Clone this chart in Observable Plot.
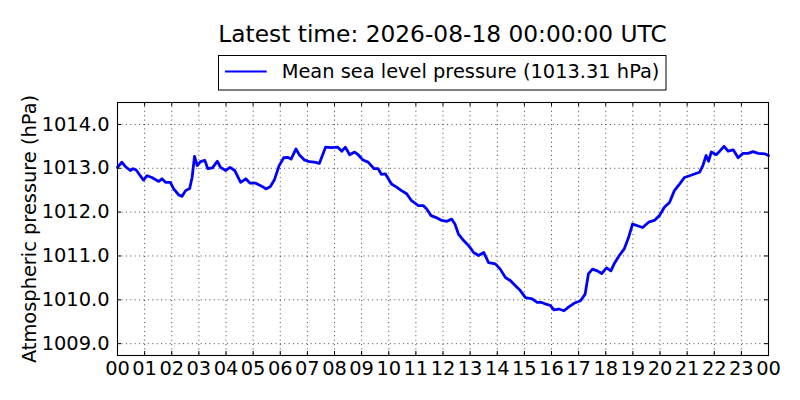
<!DOCTYPE html>
<html>
<head>
<meta charset="utf-8">
<script src="https://cdn.jsdelivr.net/npm/d3@7"></script>
<script src="https://cdn.jsdelivr.net/npm/@observablehq/plot@0.6"></script>
<style>
  html, body { margin: 0; padding: 0; background: #fff; color: #000; }
  #wrap { width: 800px; height: 400px; position: relative; overflow: hidden; font-family: "DejaVu Sans", sans-serif; }
  #header { display: block; }
</style>
</head>
<body>
<div id="wrap">
  <svg id="header" width="800" height="92" xmlns="http://www.w3.org/2000/svg" font-family="DejaVu Sans, sans-serif">
    <text x="442.5" y="41.7" text-anchor="middle" font-size="23.3" fill="#000">Latest time: 2026-08-18 00:00:00 UTC</text>
    <rect x="218.5" y="55.5" width="447.5" height="34.5" fill="#fff" stroke="#000" stroke-width="1"></rect>
    <line x1="225" x2="266.7" y1="71.5" y2="71.5" stroke="#0000ff" stroke-width="2.2"></line>
    <text x="281.7" y="78" font-size="19.4" fill="#000">Mean sea level pressure (1013.31 hPa)</text>
  </svg>
  <div id="chart"></div>
</div>
<script>
// Data (hours since 00 UTC, hPa)
const hours = [0.00,0.16,0.29,0.47,0.57,0.69,0.84,0.96,1.09,1.27,1.52,1.64,1.77,1.95,2.07,2.26,2.38,2.51,2.66,2.75,2.84,2.94,3.06,3.22,3.33,3.50,3.68,3.80,3.99,4.15,4.32,4.54,4.73,4.89,5.10,5.35,5.47,5.63,5.78,5.96,6.13,6.27,6.40,6.58,6.70,6.89,7.07,7.26,7.44,7.67,7.88,8.12,8.27,8.40,8.56,8.74,8.87,9.05,9.24,9.46,9.61,9.73,9.88,10.10,10.29,10.47,10.66,10.84,11.09,11.27,11.40,11.56,11.77,11.95,12.14,12.32,12.44,12.57,12.76,12.94,13.13,13.31,13.50,13.68,13.93,14.11,14.30,14.48,14.67,14.85,15.04,15.29,15.47,15.64,15.80,15.96,16.09,16.27,16.46,16.64,16.83,17.07,17.24,17.36,17.51,17.69,17.85,18.03,18.19,18.31,18.50,18.68,18.84,18.99,19.17,19.36,19.58,19.79,19.98,20.16,20.35,20.53,20.72,20.90,21.09,21.27,21.46,21.58,21.70,21.79,21.89,22.07,22.20,22.36,22.51,22.70,22.88,23.06,23.25,23.43,23.62,23.86,24.00];
const pressure = [1013.02,1013.14,1013.04,1012.95,1012.99,1012.96,1012.83,1012.73,1012.83,1012.79,1012.70,1012.76,1012.68,1012.68,1012.53,1012.39,1012.36,1012.49,1012.54,1012.79,1013.27,1013.06,1013.15,1013.18,1012.99,1013.01,1013.16,1013.02,1012.95,1013.02,1012.95,1012.68,1012.76,1012.66,1012.66,1012.58,1012.53,1012.58,1012.73,1013.06,1013.24,1013.25,1013.21,1013.44,1013.31,1013.19,1013.15,1013.14,1013.11,1013.48,1013.47,1013.48,1013.39,1013.48,1013.31,1013.37,1013.31,1013.19,1013.14,1012.99,1012.99,1012.86,1012.87,1012.64,1012.57,1012.49,1012.42,1012.26,1012.15,1012.15,1012.07,1011.92,1011.87,1011.81,1011.79,1011.84,1011.73,1011.50,1011.35,1011.24,1011.08,1011.01,1011.08,1010.85,1010.82,1010.70,1010.51,1010.44,1010.32,1010.21,1010.05,1010.02,1009.94,1009.94,1009.90,1009.87,1009.77,1009.79,1009.75,1009.84,1009.92,1009.98,1010.13,1010.59,1010.70,1010.66,1010.60,1010.73,1010.66,1010.82,1011.01,1011.16,1011.42,1011.73,1011.69,1011.65,1011.77,1011.81,1011.92,1012.11,1012.22,1012.49,1012.64,1012.79,1012.83,1012.87,1012.91,1013.06,1013.29,1013.16,1013.37,1013.31,1013.39,1013.50,1013.39,1013.42,1013.24,1013.34,1013.34,1013.38,1013.34,1013.33,1013.29];
const xTicks = d3.range(0, 25);
const yTicks = [1009, 1010, 1011, 1012, 1013, 1014];
const yDomain = [1008.73, 1014.5];

const data = hours.map((h, i) => ({h, p: pressure[i]}));

const W = 800, H = 308;
const mL = 117, mR = 32, mT = 10, mB = 45;
const innerW = W - mL - mR, innerH = H - mT - mB;
const tickLen = 4;
const font = "DejaVu Sans, sans-serif";

const chart = Plot.plot({
  width: W,
  height: H,
  marginLeft: mL,
  marginRight: mR,
  marginTop: mT,
  marginBottom: mB,
  style: {fontFamily: font, background: "#fff", color: "#000", overflow: "visible"},
  x: {domain: [0, 24]},
  y: {domain: yDomain},
  marks: [
    Plot.gridX(xTicks.slice(1, -1), {stroke: "#000", strokeOpacity: 0.85, strokeWidth: 0.8, strokeDasharray: "1.1,3.3"}),
    Plot.gridY(yTicks, {stroke: "#000", strokeOpacity: 0.85, strokeWidth: 0.8, strokeDasharray: "1.1,3.3"}),
    Plot.line(data, {x: "h", y: "p", stroke: "#0000ff", strokeWidth: 2.8, strokeLinejoin: "round"}),
    Plot.frame({stroke: "#000", strokeWidth: 1.1}),
    // inward ticks, all four sides
    Plot.tickX(xTicks, {x: d => d, insetTop: innerH - tickLen, stroke: "#000"}),
    Plot.tickX(xTicks, {x: d => d, insetBottom: innerH - tickLen, stroke: "#000"}),
    Plot.tickY(yTicks, {y: d => d, insetRight: innerW - tickLen, stroke: "#000"}),
    Plot.tickY(yTicks, {y: d => d, insetLeft: innerW - tickLen, stroke: "#000"}),
    Plot.axisX(xTicks, {tickSize: 0, tickPadding: 6, fontSize: 19.4, fill: "#000",
      tickFormat: d => String(d % 24).padStart(2, "0"), label: null}),
    Plot.axisY(yTicks, {tickSize: 0, tickPadding: 8, fontSize: 19.4, fill: "#000",
      tickFormat: d3.format(".1f"), label: null}),
    Plot.text(["Atmospheric pressure (hPa)"], {frameAnchor: "left", rotate: -90, dx: -82,
      lineAnchor: "bottom", textAnchor: "middle", fontSize: 19.4, fill: "#000"})
  ]
});
document.getElementById("chart").appendChild(chart);
</script>
</body>
</html>
